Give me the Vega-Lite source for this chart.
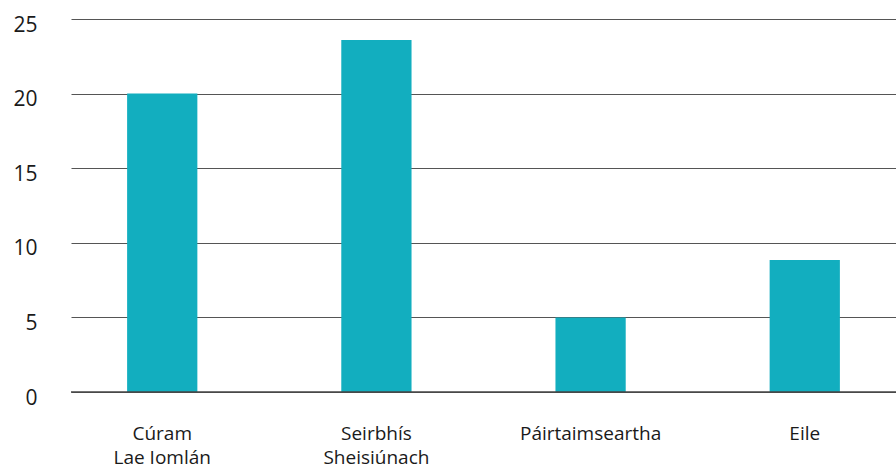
{
  "$schema": "https://vega.github.io/schema/vega-lite/v6.json",
  "autosize": "none",
  "width": 825,
  "height": 373,
  "padding": {"left": 71, "top": 19, "right": 0, "bottom": 80},
  "background": "white",
  "config": {"view": {"stroke": null}, "font": "Open Sans"},
  "data": {"values": [
    {"category": "Cúram Lae Iomlán", "value": 20},
    {"category": "Seirbhís Sheisiúnach", "value": 23.6},
    {"category": "Páirtaimseartha", "value": 5},
    {"category": "Eile", "value": 8.85}
  ]},
  "layer": [
    {
      "mark": {"type": "bar", "color": "#12AEBF"},
      "encoding": {
        "x": {
          "field": "category", "type": "nominal", "sort": null,
          "scale": {"paddingInner": 0.672, "paddingOuter": 0.262},
          "axis": {
            "title": null, "domain": false, "ticks": false, "labelAngle": 0,
            "labelFontSize": 19, "labelColor": "#1a1a1a", "labelPadding": 32,
            "labelLineHeight": 24, "labelBaseline": "top",
            "labelExpr": "datum.value == 'Cúram Lae Iomlán' ? ['Cúram', 'Lae Iomlán'] : datum.value == 'Seirbhís Sheisiúnach' ? ['Seirbhís', 'Sheisiúnach'] : datum.value"
          }
        },
        "y": {
          "field": "value", "type": "quantitative",
          "scale": {"domain": [0, 25], "nice": false},
          "axis": {
            "title": null, "domain": false, "ticks": false, "values": [0, 5, 10, 15, 20, 25],
            "labelFontSize": 21, "labelColor": "#1a1a1a", "labelPadding": 34,
            "labelOffset": 6,
            "gridColor": "#555", "gridWidth": 1.2
          }
        }
      }
    },
    {
      "data": {"values": [{"y": 0}]},
      "mark": {"type": "rule", "color": "#444", "strokeWidth": 1.5},
      "encoding": {"y": {"field": "y", "type": "quantitative"}}
    }
  ]
}
